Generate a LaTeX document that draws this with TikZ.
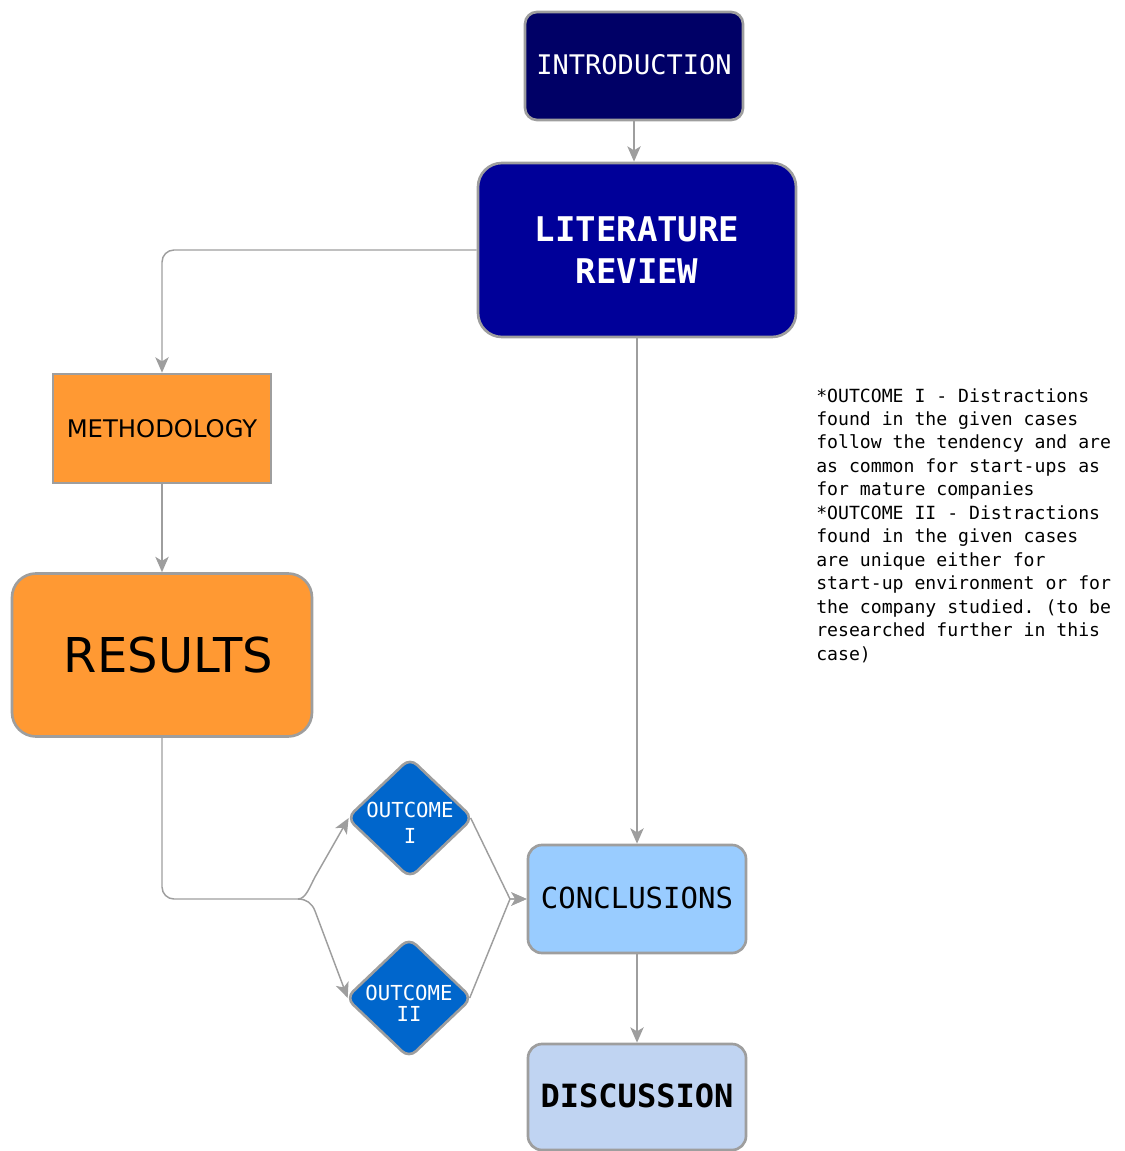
\documentclass[tikz,border=0pt]{standalone}
\usepackage{fontspec}
\setmainfont{DejaVu Sans}
\setmonofont{DejaVu Sans Mono}
\usetikzlibrary{shapes.geometric,arrows.meta}
\definecolor{introC}{HTML}{000066}
\definecolor{litC}{HTML}{000099}
\definecolor{orangeC}{HTML}{FF9933}
\definecolor{outC}{HTML}{0066CC}
\definecolor{concC}{HTML}{99CCFF}
\definecolor{discC}{HTML}{C0D4F2}
\definecolor{edgeC}{HTML}{9E9E9E}
\tikzset{
  box/.style={draw=edgeC, line width=2pt, inner sep=0pt, align=center},
  dia/.style={diamond, draw=edgeC, line width=2pt, fill=outC, inner sep=0pt,
    aspect=1.05, minimum width=95pt, minimum height=90.5pt, rounded corners=7pt},
  line/.style={draw=edgeC, line width=1.1pt},
  conn/.style={line, -{Stealth[length=11.5pt,width=10pt,inset=3pt]}},
  outtext/.style={text=white, font=\ttfamily\fontsize{15.5}{19.5}\selectfont, align=center}
}
\begin{document}
\begin{tikzpicture}[x=0.75pt,y=-0.75pt]
\useasboundingbox (0,0) rectangle (1124,1151);

\node[box, fill=introC, text=white, rounded corners=9pt,
  minimum width=163.5pt, minimum height=81pt,
  font=\ttfamily\fontsize{20.25}{24}\selectfont] (intro) at (634,66) {\raisebox{3pt}{INTRODUCTION}};

\node[box, fill=litC, text=white, rounded corners=18pt,
  minimum width=238.5pt, minimum height=130.5pt,
  font=\ttfamily\bfseries\fontsize{25.5}{31.5}\selectfont] (lit) at (637,250) {LITERATURE\\REVIEW};

\node[box, fill=orangeC, text=black,
  minimum width=163.5pt, minimum height=81.75pt,
  font=\fontsize{18.2}{22}\selectfont] (meth) at (162,428.5) {METHODOLOGY};

\node[box, fill=orangeC, text=black, rounded corners=18pt,
  minimum width=225pt, minimum height=122.25pt,
  font=\fontsize{36}{40}\selectfont] (res) at (162,655) {\hspace*{9.75pt}RESULTS};

\node[box, fill=concC, text=black, rounded corners=10.5pt,
  minimum width=163.5pt, minimum height=81pt,
  font=\ttfamily\fontsize{21.75}{26}\selectfont] (conc) at (637,899) {\raisebox{1.5pt}{CONCLUSIONS}};

\node[box, fill=discC, text=black, rounded corners=10.5pt,
  minimum width=163.5pt, minimum height=79.5pt,
  font=\ttfamily\bfseries\fontsize{24}{28}\selectfont] (disc) at (637,1097) {\raisebox{2pt}{DISCUSSION}};

\node[dia, label={[outtext, yshift=-3.75pt]center:OUTCOME\\I}] (o1) at (410,818) {};
\node[dia, label={[outtext, yshift=-4pt, font=\ttfamily\fontsize{15.5}{15.75}\selectfont]center:OUTCOME\\II}] (o2) at (409,998) {};

\node[anchor=north west, inner sep=0pt, align=left, text=black,
  font=\ttfamily\fontsize{13.6}{17.6}\selectfont] (note) at (816,388)
{*OUTCOME I - Distractions\\
found in the given cases\\
follow the tendency and are\\
as common for start-ups as\\
for mature companies\\
*OUTCOME II - Distractions\\
found in the given cases\\
are unique either for\\
start-up environment or for\\
the company studied. (to be\\
researched further in this\\
case)};

% connectors
\draw[conn] (intro.south) -- (intro.south |- lit.north);
\draw[conn, rounded corners=9pt] (lit.west) -| (meth.north);
\draw[conn] (meth.south) -- (res.north);
\draw[conn] (lit.south) -- (conc.north);
\draw[conn] (conc.south) -- (disc.north);

\coordinate (br) at (298,899);
\draw[line, rounded corners=9pt] (res.south) |- (br);
\draw[conn] (br) .. controls (306,899) and (310,886) .. (315,877) -- ([xshift=2.5pt]o1.west);
\draw[conn] (br) .. controls (306,899) and (312,903) .. (315,911) -- ([xshift=2.5pt]o2.west);

\coordinate (mg) at (510,899);
\draw[conn] ([xshift=-3pt]o1.east) -- (mg) -- (conc.west);
\draw[conn] ([xshift=-3pt]o2.east) -- (mg) -- (conc.west);
\end{tikzpicture}
\end{document}
